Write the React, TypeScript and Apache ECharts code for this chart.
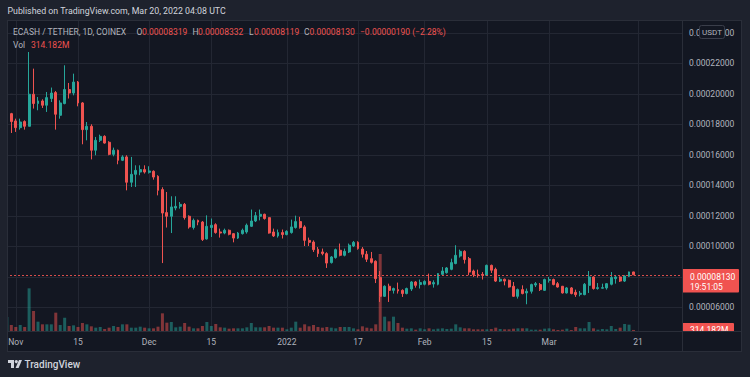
import React, { useEffect, useRef } from 'react';
import * as echarts from 'echarts';

// ---------------- DATA ----------------
// Prices are in units of 0.00001 USDT. Each candle: [open, close, low, high]
// Day index 0 = 1 Nov 2021; first candle is 30 Oct 2021.
const FIRST_DAY = -2;

const ohlcOctNov: number[][] = [
  [18.22, 18.70, 18.15, 18.90], [18.70, 18.18, 17.43, 18.75], [18.22, 17.78, 17.50, 18.37],
  [17.78, 18.15, 17.65, 18.37], [18.18, 17.87, 17.65, 18.26], [17.87, 19.97, 17.87, 22.74],
  [19.97, 19.36, 19.03, 21.65], [19.36, 19.53, 18.92, 19.79], [19.53, 19.25, 19.07, 19.64],
  [19.25, 19.75, 18.81, 20.12], [19.69, 20.05, 19.46, 20.41], [20.08, 18.66, 17.65, 20.18],
  [18.59, 19.40, 18.37, 19.57], [19.36, 20.28, 19.31, 21.87], [20.28, 20.05, 19.69, 20.71],
  [20.05, 20.77, 19.90, 21.32], [20.77, 19.40, 19.18, 20.84], [19.40, 17.65, 16.69, 19.46],
  [17.65, 17.87, 16.95, 18.15], [17.87, 16.30, 15.70, 18.00], [16.30, 16.95, 15.97, 17.17],
  [16.95, 17.21, 16.84, 17.32], [17.21, 16.77, 16.73, 17.28], [16.82, 16.03, 15.97, 16.89],
  [16.03, 16.30, 15.90, 16.47], [16.30, 15.64, 15.38, 16.34], [15.64, 15.86, 15.59, 15.97],
  [15.86, 14.20, 13.67, 15.97], [14.20, 14.72, 13.89, 15.86], [14.72, 14.98, 13.89, 15.31],
  [14.87, 15.03, 14.66, 15.31], [15.03, 14.87, 14.77, 15.31],
];
const ohlcDec: number[][] = [
  [14.85, 14.94, 14.77, 15.25], [14.92, 14.54, 14.37, 14.98], [14.59, 13.67, 13.34, 14.66],
  [13.72, 12.18, 8.90, 13.87], [12.21, 11.97, 11.23, 13.56], [11.97, 12.58, 10.87, 13.28],
  [12.51, 12.62, 12.36, 13.28], [12.62, 12.75, 12.47, 12.90], [12.75, 11.88, 11.75, 12.84],
  [11.97, 11.27, 11.16, 12.03], [11.23, 11.70, 11.10, 11.82], [11.70, 11.59, 11.38, 11.75],
  [11.59, 10.44, 10.35, 11.66], [10.48, 11.31, 10.44, 12.03], [11.23, 11.38, 10.61, 11.82],
  [11.42, 10.90, 10.83, 11.51], [10.94, 10.87, 10.57, 11.16], [10.87, 11.05, 10.79, 11.16],
  [11.05, 10.79, 10.72, 11.10], [10.83, 10.54, 10.26, 10.87], [10.54, 10.87, 10.48, 10.94],
  [10.83, 11.05, 10.77, 11.16], [10.94, 11.38, 10.83, 11.49], [11.31, 11.66, 11.27, 12.41],
  [11.66, 12.01, 11.59, 12.25], [11.97, 12.10, 11.70, 12.41], [12.10, 11.82, 11.75, 12.14],
  [11.88, 10.87, 10.83, 11.90], [10.94, 10.68, 10.61, 11.16], [10.68, 10.90, 10.57, 11.10],
  [10.90, 10.77, 10.51, 11.10],
];
const ohlcJan: number[][] = [
  [10.77, 10.98, 10.72, 11.05], [10.90, 11.27, 10.83, 11.75], [11.23, 11.62, 11.16, 12.01],
  [11.62, 11.23, 11.16, 11.93], [11.27, 10.39, 10.02, 11.38], [10.39, 10.26, 10.02, 10.57],
  [10.28, 9.78, 9.63, 10.39], [9.80, 9.52, 9.30, 9.95], [9.63, 9.52, 9.41, 9.85],
  [9.52, 8.90, 8.58, 9.61], [8.93, 9.30, 8.87, 9.36], [9.26, 9.78, 9.19, 9.85],
  [9.74, 9.41, 9.34, 10.18], [9.41, 9.67, 9.34, 9.85], [9.63, 10.07, 9.56, 10.18],
  [10.02, 10.26, 9.95, 10.35], [10.26, 9.85, 9.78, 10.33], [9.82, 9.48, 9.26, 9.95],
  [9.48, 9.15, 8.97, 9.69], [9.19, 8.95, 8.87, 9.63], [9.02, 7.88, 7.59, 9.08],
  [7.95, 6.72, 6.35, 8.38], [6.72, 7.38, 6.68, 7.44], [7.38, 7.11, 6.35, 7.55],
  [7.11, 7.23, 6.90, 7.29], [7.16, 7.07, 6.90, 7.62], [7.11, 6.90, 6.68, 7.18],
  [6.90, 7.23, 6.85, 7.29], [7.20, 7.66, 7.07, 7.72], [7.66, 7.44, 7.29, 7.72],
  [7.49, 7.62, 7.23, 7.82],
];
const ohlcFeb: number[][] = [
  [7.51, 7.70, 7.44, 7.77], [7.70, 7.51, 7.44, 8.21], [7.53, 7.62, 7.29, 7.77],
  [7.51, 8.21, 7.44, 8.25], [8.16, 8.38, 8.10, 8.64], [8.27, 8.58, 8.21, 8.64],
  [8.49, 8.93, 8.43, 9.19], [8.87, 9.41, 8.82, 10.07], [9.36, 9.67, 9.26, 9.78],
  [9.67, 9.13, 8.87, 9.74], [9.19, 8.31, 8.10, 9.30], [8.38, 8.14, 7.99, 8.47],
  [8.16, 8.10, 7.95, 8.47], [8.16, 8.10, 7.82, 8.31], [8.10, 8.75, 8.05, 8.80],
  [8.75, 8.43, 8.25, 8.80], [8.49, 7.72, 7.66, 8.60], [7.72, 7.84, 7.66, 7.99],
  [7.84, 7.72, 7.44, 7.88], [7.77, 7.33, 7.29, 7.82], [7.38, 6.72, 6.68, 7.66],
  [6.72, 7.16, 6.57, 7.23], [7.16, 6.90, 6.85, 7.44], [6.94, 7.05, 6.20, 7.23],
  [7.05, 7.49, 6.90, 7.55], [7.46, 7.55, 7.33, 7.66], [7.49, 7.16, 7.07, 7.59],
  [7.11, 7.82, 7.07, 7.88],
];
const ohlcMar: number[][] = [
  [7.77, 7.82, 7.62, 7.99], [7.82, 7.49, 7.44, 7.88], [7.55, 7.33, 7.29, 7.66],
  [7.38, 6.94, 6.90, 7.40], [6.94, 7.27, 6.90, 7.33], [7.27, 6.90, 6.85, 7.33],
  [6.98, 6.83, 6.68, 7.16], [6.85, 6.92, 6.72, 7.07], [6.83, 7.51, 6.79, 7.59],
  [7.44, 7.99, 6.94, 8.38], [7.99, 7.23, 7.16, 8.03], [7.23, 7.29, 7.16, 7.59],
  [7.25, 7.29, 7.23, 7.55], [7.27, 7.55, 7.16, 7.59], [7.51, 7.95, 7.44, 8.31],
  [7.88, 7.99, 7.55, 8.10], [7.99, 7.72, 7.66, 8.03], [7.72, 8.05, 7.66, 8.10],
  [8.03, 8.32, 7.99, 8.34], [8.319, 8.13, 8.119, 8.332],
];

// Volume in millions
const volOctNov = [4200, 1800, 1200, 1800, 1200, 12800, 6000, 2800, 2000, 2000, 2000, 5500, 1800, 4000, 1500, 1700,
  1200, 2400, 2000, 1400, 1000, 1200, 600, 1000, 1500, 1200, 2000, 2000, 1000, 1000, 1300, 1000];
const volDec = [800, 800, 1300, 5300, 2500, 2700, 1100, 1300, 2400, 1300, 800, 800, 1500, 2700, 1500, 2100,
  1100, 1000, 700, 800, 800, 800, 1100, 2400, 1100, 1100, 1100, 1500, 1000, 1000, 1000];
const volJan = [500, 1000, 2800, 1000, 2000, 1400, 1800, 1200, 1000, 1200, 1000, 800, 1200, 1200, 1200, 800,
  500, 1400, 1000, 800, 2000, 23100, 4300, 2900, 4300, 2400, 1000, 700, 800, 400, 800];
const volFeb = [500, 800, 500, 700, 800, 600, 700, 2000, 1100, 800, 800, 500, 500, 500, 500, 600,
  1000, 600, 500, 500, 700, 800, 800, 800, 400, 400, 400, 700];
const volMar = [800, 500, 300, 400, 700, 300, 1200, 800, 800, 2700, 800, 400, 600, 500, 1500, 600,
  1000, 2100, 1900, 314.182];

const timeTickDays = [0, 14, 30, 44, 61, 77, 92, 106, 120, 140];
const timeTickLabels = ['Nov', '15', 'Dec', '15', '2022', '17', 'Feb', '15', 'Mar', '21'];
const priceTicks = [6, 8, 10, 12, 14, 16, 18, 20, 22, 24];
const LAST_CLOSE = 8.13;

// ---------------- STYLE ----------------
const FONT = 'Roboto, "Noto Sans", sans-serif';
const FS = 8.5;
const OUTER = '#1e222d';
const PANE = '#131722';
const BORDER = '#2a2e39';
const GRIDC = '#232733';
const TXT = '#b2b5be';
const UP = '#26a69a';
const DOWN = '#ef5350';
const UP_VOL = 'rgba(38,166,154,0.5)';
const DOWN_VOL = 'rgba(239,83,80,0.5)';

const PX_PER_DAY = 4.444;
const GRID_LEFT = 6;
const PANE_RIGHT = 682;
const PANE_TOP = 20;
const PANE_BOTTOM = 331;
const X_MIN = -2.2;
const X_MAX = X_MIN + (PANE_RIGHT - GRID_LEFT) / PX_PER_DAY;
const Y_PER_UNIT = 15.25;
const Y_MIN = 22 - (PANE_BOTTOM - 63.3) / Y_PER_UNIT;
const Y_MAX = 22 + (63.3 - PANE_TOP) / Y_PER_UNIT;

function buildOption() {
  const ohlc = [...ohlcOctNov, ...ohlcDec, ...ohlcJan, ...ohlcFeb, ...ohlcMar];
  const vols = [...volOctNov, ...volDec, ...volJan, ...volFeb, ...volMar];
  const candleData = ohlc.map((c, i) => [FIRST_DAY + i, c[0], c[1], c[2], c[3]]);
  const volData = vols.map((v, i) => ({
    value: [FIRST_DAY + i, v],
    itemStyle: { color: ohlc[i][1] >= ohlc[i][0] ? UP_VOL : DOWN_VOL },
  }));
  const labelMap: Record<number, string> = {};
  timeTickDays.forEach((d, i) => (labelMap[d] = timeTickLabels[i]));

  const txt = (x: number, y: number, text: string, fill: string, size = FS, extra: any = {}) => ({
    type: 'text', x, y, z: 60, silent: true,
    style: { text, fill, fontSize: size, fontFamily: FONT, verticalAlign: 'middle', align: 'left', ...extra },
  });
  const line = (x1: number, y1: number, x2: number, y2: number) => ({
    type: 'line', z: 80, silent: true,
    shape: { x1, y1, x2, y2 }, style: { stroke: BORDER, lineWidth: 1 },
  });
  const rect = (x: number, y: number, w: number, h: number, fill: string, z: number, extra: any = {}) => ({
    type: 'rect', z, silent: true, shape: { x, y, width: w, height: h, ...extra.shape }, style: { fill, ...extra.style },
  });

  return {
    animation: false,
    backgroundColor: PANE,
    grid: [
      { left: GRID_LEFT, right: 750 - PANE_RIGHT, top: PANE_TOP, bottom: 377 - PANE_BOTTOM },
      { left: GRID_LEFT, right: 750 - PANE_RIGHT, top: PANE_BOTTOM - 100, bottom: 377 - PANE_BOTTOM },
    ],
    xAxis: [
      {
        type: 'value', gridIndex: 0, min: X_MIN, max: X_MAX, position: 'bottom',
        axisLine: { show: false },
        axisTick: { show: false, customValues: timeTickDays },
        axisLabel: {
          customValues: timeTickDays, formatter: (v: number) => labelMap[v] ?? '',
          color: TXT, fontSize: FS, fontFamily: FONT, margin: 6,
        },
        splitLine: { show: true, lineStyle: { color: GRIDC, width: 1 } },
      },
      { type: 'value', gridIndex: 1, min: X_MIN, max: X_MAX, show: false },
    ],
    yAxis: [
      {
        type: 'value', gridIndex: 0, position: 'right', min: Y_MIN, max: Y_MAX,
        axisLine: { show: false },
        axisTick: { show: false, customValues: priceTicks },
        axisLabel: {
          customValues: priceTicks,
          formatter: (v: number) => (Math.abs(v - 8) < 1e-9 ? '' : (v * 1e-5).toFixed(8)),
          color: TXT, fontSize: FS, fontFamily: FONT, margin: 7,
        },
        splitLine: { show: true, lineStyle: { color: GRIDC, width: 1 } },
      },
      { type: 'value', gridIndex: 1, min: 0, max: 30000, show: false, splitLine: { show: false } },
    ],
    series: [
      {
        type: 'bar', xAxisIndex: 1, yAxisIndex: 1, barWidth: 3, data: volData, z: 1, silent: true,
      },
      {
        type: 'candlestick', xAxisIndex: 0, yAxisIndex: 0, barWidth: 2.4, data: candleData, z: 3, silent: true,
        itemStyle: { color: UP, color0: DOWN, borderColor: UP, borderColor0: DOWN, borderWidth: 1 },
        markLine: {
          silent: true, symbol: ['none', 'none'], label: { show: false },
          lineStyle: { color: DOWN, type: [2, 2], width: 1, opacity: 0.9 },
          data: [{ yAxis: LAST_CLOSE }],
        },
      },
    ],
    graphic: [
      // outer frame bands
      rect(0, 0, 750, PANE_TOP, OUTER, 50),
      rect(0, 351, 750, 26, OUTER, 50),
      rect(0, 0, 7, 377, OUTER, 50),
      rect(742, 0, 8, 377, OUTER, 50),
      // header
      txt(7.5, 11, 'Published on TradingView.com, Mar 20, 2022 04:08 UTC', '#d1d4dc', 8.8),
      txt(13, 32, 'ECASH / TETHER, 1D, COINEX', TXT),
      txt(136.5, 32, 'O', TXT), txt(142, 32, '0.00008319', DOWN),
      txt(192.5, 32, 'H', TXT), txt(198, 32, '0.00008332', DOWN),
      txt(249, 32, 'L', TXT), txt(254, 32, '0.00008119', DOWN),
      txt(304, 32, 'C', TXT), txt(309.5, 32, '0.00008130', DOWN),
      txt(360, 32, '\u22120.00000190 (\u22122.28%)', DOWN),
      txt(13, 45, 'Vol', TXT), txt(31, 45, '314.182M', DOWN),
      // USDT box (sits over the top price label as in the reference)
      rect(699.5, 25.5, 25, 13, PANE, 70, { shape: { r: 2 }, style: { stroke: '#3a3e4a', lineWidth: 1 } }),
      { ...txt(712, 32.5, 'USDT', TXT, 8, { align: 'center' }), z: 71 },
      // last price label
      rect(682, 269, 57, 23.5, '#f05350', 70, { shape: { r: 1 } }),
      { ...txt(690, 277, '0.00008130', '#ffffff'), z: 71 },
      { ...txt(690, 286.5, '19:51:05', '#ffffff'), z: 71 },
      // volume label (cut by the time scale)
      rect(682, 323, 52, 14, '#f05350', 70, { shape: { r: 1 } }),
      { ...txt(690, 330, '314.182M', '#ffffff'), z: 71 },
      rect(682.5, 331.5, 59, 19.5, PANE, 72),
      // borders
      line(7, 20.5, 742, 20.5),
      line(7.5, 20, 7.5, 351),
      line(741.5, 20, 741.5, 351),
      line(7, 351.5, 742, 351.5),
      line(7, 331.5, 742, 331.5),
      line(682.5, 20, 682.5, 351),
      // TradingView logo
      { type: 'rect', z: 60, silent: true, shape: { x: 8, y: 360, width: 6, height: 3 }, style: { fill: '#d1d4dc' } },
      { type: 'rect', z: 60, silent: true, shape: { x: 11, y: 360, width: 3, height: 8 }, style: { fill: '#d1d4dc' } },
      { type: 'circle', z: 60, silent: true, shape: { cx: 16.3, cy: 361.6, r: 1.6 }, style: { fill: '#d1d4dc' } },
      { type: 'polygon', z: 60, silent: true, shape: { points: [[19, 360], [22, 360], [18.6, 368], [15.6, 368]] }, style: { fill: '#d1d4dc' } },
      txt(24.5, 364.5, 'TradingView', '#d1d4dc', 10, { fontWeight: 500 }),
    ],
  };
}

export default function App() {
  const ref = useRef<HTMLDivElement>(null);
  useEffect(() => {
    if (!ref.current) return;
    const chart = echarts.init(ref.current, null, { renderer: 'svg', width: 750, height: 377 });
    chart.setOption(buildOption() as any);
    return () => chart.dispose();
  }, []);
  return <div ref={ref} style={{ position: 'fixed', left: 0, top: 0, width: 750, height: 377 }} />;
}
